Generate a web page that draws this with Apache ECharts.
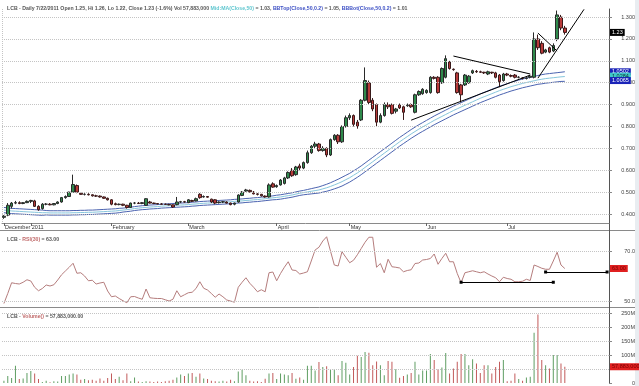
<!DOCTYPE html>
<html><head><meta charset="utf-8">
<script src="https://cdn.jsdelivr.net/npm/echarts@6/dist/echarts.min.js"></script>
<style>html,body{margin:0;padding:0;background:#fff}#c{width:639px;height:386px}</style>
</head><body><div id="c"></div>
<script>
// ---- trading days (day numbers per month) ----
const dec2010 = [22,23,24,28,29,30,31];
const jan2011 = [3,4,5,6,7,10,11,12,13,14,17,18,19,20,21,24,25,26,27,28,31];
const feb2011 = [1,2,3,4,7,8,9,10,11,14,15,16,17,18,21,22,23,24,25,28];
const mar2011 = [1,2,3,4,7,8,9,10,11,14,15,16,17,18,21,22,23,24,25,28,29,30,31];
const apr2011 = [1,4,5,6,7,8,11,12,13,14,15,18,19,20,21,26,27,28,29];
const may2011 = [2,3,4,5,6,9,10,11,12,13,16,18,19,20,23,24,25,26,27,31];
const jun2011 = [1,2,3,6,7,8,9,10,14,15,16,17,20,21,22,23,24,27,28,29,30];
const jul2011 = [1,4,5,6,7,8,11,12,13,14,15,18,19,20,21,22];
const padJul = [25,26,27,28,29];
const padAug = [1,2,3,4,5,8];

const monthLabels = {'2010-12':'December','2011-01':'2011','2011-02':'February','2011-03':'March',
  '2011-04':'April','2011-05':'May','2011-06':'Jun','2011-07':'Jul'};

// ---- price data ----
const opens = [.385,.395,.435,.45,.452,.448,.452,.458,.46,.435,
 .425,.445,.445,.442,.448,.455,.475,.48,.50,.53,
 .495,.49,.49,.488,.483,.482,.478,.472,.465,.447,
 .443,.445,.44,.43,.45,.45,.448,.44,.455,.45,
 .448,.446,.445,.444,.442,.443,.455,.456,.452,.462,
 .46,.49,.478,.48,.468,.465,.452,.455,.455,.45,
 .445,.455,.485,.505,.508,.50,.492,.49,.482,.478,
 .538,.525,.533,.54,.565,.60,.58,.62,.61,.635,
 .68,.71,.72,.69,.70,.67,.74,.76,.73,.80,
 .84,.85,.82,.83,.92,1.0,.92,.90,.82,.85,
 .90,.90,.87,.90,.89,.895,.90,.865,.945,.95,
 .955,.955,1.025,1.025,1.0,1.025,1.095,1.062,1.045,.99,
 .99,1.0,1.045,1.052,1.05,1.048,1.04,1.048,1.045,1.035,
 1.01,1.04,1.033,1.035,1.025,1.022,1.02,1.025,1.025,1.20,
 1.18,1.14,1.16,1.145,1.20,1.30,1.25];
const highs = [.395,.45,.455,.46,.458,.455,.462,.465,.465,.44,
 .45,.45,.45,.45,.458,.478,.485,.502,.58,.535,
 .50,.495,.495,.49,.488,.485,.48,.475,.468,.452,
 .448,.447,.442,.452,.455,.455,.455,.472,.46,.452,
 .45,.45,.448,.447,.444,.478,.46,.46,.468,.465,
 .475,.495,.485,.482,.47,.468,.458,.46,.458,.452,
 .452,.49,.505,.515,.512,.505,.495,.492,.485,.54,
 .545,.535,.56,.57,.595,.61,.62,.63,.64,.69,
 .715,.73,.725,.71,.705,.745,.765,.765,.805,.85,
 .86,.855,.83,.925,1.07,1.01,.93,.905,.86,.91,
 .91,.905,.885,.905,.895,.905,.905,.95,.965,.975,
 .97,1.03,1.03,1.03,1.07,1.125,1.10,1.065,1.05,.995,
 1.04,1.035,1.06,1.058,1.055,1.05,1.055,1.05,1.05,1.04,
 1.045,1.045,1.038,1.04,1.03,1.025,1.025,1.035,1.23,1.22,
 1.19,1.155,1.165,1.18,1.33,1.31,1.26];
const lows = [.378,.39,.425,.445,.445,.445,.45,.45,.432,.415,
 .42,.44,.44,.44,.445,.452,.47,.478,.498,.495,
 .488,.485,.485,.48,.478,.475,.47,.462,.44,.44,
 .44,.436,.425,.428,.445,.446,.445,.438,.448,.445,
 .444,.443,.442,.44,.428,.44,.45,.452,.45,.455,
 .458,.47,.475,.475,.45,.445,.448,.45,.448,.44,
 .44,.452,.482,.502,.498,.49,.485,.48,.475,.475,
 .52,.52,.53,.535,.56,.57,.575,.60,.605,.63,
 .675,.70,.685,.685,.66,.665,.735,.72,.725,.795,
 .83,.80,.79,.825,.915,.90,.87,.80,.815,.845,
 .88,.855,.86,.88,.83,.89,.885,.86,.94,.945,
 .95,.95,1.015,.95,.995,1.02,1.06,1.055,.95,.91,
 .985,.995,1.04,1.045,1.045,1.04,1.035,1.04,1.02,.98,
 1.005,1.03,1.025,1.02,1.02,1.015,1.015,1.02,1.02,1.15,
 1.13,1.135,1.135,1.14,1.19,1.24,1.22];
const closes = [.39,.44,.45,.452,.448,.452,.458,.462,.435,.42,
 .445,.445,.442,.448,.455,.475,.48,.50,.535,.50,
 .49,.49,.488,.483,.482,.478,.472,.465,.445,.443,
 .445,.44,.43,.45,.45,.448,.452,.47,.45,.448,
 .446,.445,.444,.442,.432,.455,.456,.455,.465,.458,
 .47,.475,.48,.477,.455,.45,.455,.456,.45,.443,
 .45,.487,.50,.51,.502,.492,.49,.483,.478,.533,
 .523,.53,.555,.565,.59,.575,.615,.61,.635,.68,
 .71,.72,.69,.70,.67,.74,.76,.73,.80,.84,
 .85,.81,.80,.92,1.01,.91,.88,.82,.85,.90,
 .89,.86,.88,.885,.865,.90,.89,.945,.96,.97,
 .965,1.025,1.02,.955,1.065,1.11,1.065,1.06,.955,.945,
 1.035,1.03,1.055,1.05,1.048,1.045,1.05,1.045,1.025,1.005,
 1.04,1.035,1.03,1.025,1.025,1.02,1.022,1.03,1.20,1.16,
 1.135,1.15,1.14,1.17,1.31,1.25,1.23];

// ---- Bollinger bands ----
const bbMid = [.418,.416,.414,.413,.412,.411,.410,.409,.408,.407,
 .406,.406,.405,.405,.405,.405,.405,.405,.406,.406,
 .407,.407,.408,.408,.409,.410,.411,.412,.413,.414,
 .416,.418,.420,.422,.425,.427,.429,.430,.432,.433,
 .434,.436,.437,.438,.439,.440,.441,.442,.443,.445,
 .446,.448,.449,.450,.451,.452,.453,.454,.455,.456,
 .458,.459,.460,.462,.463,.465,.466,.468,.470,.472,
 .474,.476,.478,.481,.484,.487,.491,.495,.498,.501,
 .504,.507,.510,.515,.520,.526,.533,.540,.548,.557,
 .566,.577,.588,.600,.613,.626,.639,.652,.665,.678,
 .691,.704,.717,.730,.742,.754,.766,.777,.788,.798,
 .808,.818,.828,.837,.846,.855,.864,.873,.881,.889,
 .897,.905,.913,.921,.929,.936,.943,.950,.957,.964,
 .970,.976,.982,.987,.992,.997,1.001,1.005,1.009,1.013,
 1.016,1.019,1.021,1.023,1.025,1.027,1.0284];
const bbTop = [.430,.428,.426,.425,.424,.423,.422,.421,.420,.419,
 .418,.416,.415,.415,.415,.415,.415,.415,.416,.416,
 .417,.417,.418,.418,.419,.420,.421,.422,.423,.424,
 .426,.427,.429,.431,.434,.436,.438,.439,.441,.442,
 .443,.445,.446,.447,.448,.449,.450,.451,.452,.454,
 .455,.457,.458,.459,.460,.461,.462,.463,.464,.465,
 .467,.468,.469,.471,.472,.474,.475,.477,.479,.481,
 .483,.486,.488,.491,.494,.497,.501,.505,.508,.512,
 .516,.520,.524,.530,.536,.543,.551,.559,.568,.577,
 .586,.597,.608,.620,.633,.646,.659,.672,.685,.698,
 .711,.724,.737,.750,.762,.774,.786,.797,.808,.818,
 .828,.838,.848,.857,.866,.875,.884,.893,.901,.909,
 .917,.925,.933,.941,.949,.956,.963,.970,.977,.984,
 .990,.996,1.002,1.007,1.012,1.017,1.021,1.025,1.029,1.033,
 1.037,1.040,1.042,1.044,1.046,1.048,1.0502];
const bbBot = [.406,.404,.402,.401,.400,.399,.398,.397,.396,.395,
 .394,.396,.395,.395,.395,.395,.395,.395,.396,.396,
 .397,.397,.398,.398,.399,.400,.401,.402,.403,.404,
 .406,.409,.411,.413,.416,.418,.420,.421,.423,.424,
 .425,.427,.428,.429,.430,.431,.432,.433,.434,.436,
 .437,.439,.440,.441,.442,.443,.444,.445,.446,.447,
 .449,.450,.451,.453,.454,.456,.457,.459,.461,.463,
 .465,.466,.468,.471,.474,.477,.481,.485,.488,.490,
 .492,.494,.496,.500,.504,.509,.515,.521,.528,.537,
 .546,.557,.568,.580,.593,.606,.619,.632,.645,.658,
 .671,.684,.697,.710,.722,.734,.746,.757,.768,.778,
 .788,.798,.808,.817,.826,.835,.844,.853,.861,.869,
 .877,.885,.893,.901,.909,.916,.923,.930,.937,.944,
 .950,.956,.962,.967,.972,.977,.981,.985,.989,.993,
 .995,.998,1.000,1.002,1.004,1.006,1.0065];

// ---- RSI(30) ----
const rsi = [49.0,53.0,57.3,57.0,56.8,57.5,58.5,58.0,55.5,54.1,
 55.0,56.4,56.0,56.5,58.4,60.5,62.0,63.5,65.1,61.1,
 61.3,60.0,58.1,58.3,56.8,57.2,57.5,54.0,51.7,52.0,
 51.0,50.1,49.3,51.7,51.8,51.2,50.7,54.8,51.3,51.1,
 51.0,51.0,50.5,50.0,50.7,54.1,51.7,52.5,53.3,53.5,
 55.0,57.7,55.1,54.4,53.0,51.5,52.8,51.7,50.4,50.0,
 49.5,55.5,57.5,59.3,57.1,55.5,53.7,54.5,53.7,61.3,
 61.6,58.1,61.0,63.5,65.7,62.4,62.2,60.8,61.2,61.7,
 66.0,70.4,71.5,74.0,75.7,70.0,64.4,64.0,69.7,67.5,
 65.3,66.3,68.5,71.0,73.5,75.5,75.5,63.5,65.0,61.3,
 66.7,63.7,63.5,63.2,61.7,62.2,62.5,65.0,65.2,66.4,
 66.6,67.0,68.8,64.7,67.0,69.1,65.7,65.7,61.0,57.3,
 61.3,61.7,62.1,61.7,61.3,61.7,60.8,60.0,59.3,57.7,
 59.5,59.0,58.7,57.7,57.7,57.9,58.7,58.2,64.4,63.8,
 63.1,62.7,62.7,66.0,69.5,64.4,63.0];

// ---- Volume (millions) ----
const volumesM = [8,25,18,62,14,16,36,43,34,14,
 4,8,3,6,5,25,25,30,34,30,
 12,14,10,12,8,16,8,18,34,14,
 22,10,34,6,20,5,4,6,5,4,
 5,4,6,8,12,20,30,25,34,36,
 22,34,16,14,8,6,5,8,5,12,
 6,41,47,28,8,5,6,4,15,34,
 36,14,34,30,28,36,15,20,12,62,
 62,45,75,57,60,49,49,28,79,72,
 30,57,97,93,111,108,63,77,63,28,
 79,76,49,19,25,30,36,76,30,45,
 45,104,82,49,55,107,34,52,76,104,
 104,63,85,70,36,63,63,34,57,76,
 82,6,8,34,14,8,20,22,180,245,
 82,63,52,100,100,70,57.883];

// ---- axis ticks ----
const priceTicks = [0.4,0.5,0.6,0.7,0.8,0.9,1.0,1.1,1.2,1.3];
const rsiTicks = [50,70];
const volTicksM = [0,100,150,200,250];
const volGridM = [50,100,150,200,250];

// ---- annotations: [ [catIndex, value], [catIndex, value] ] ----
const priceTrendlines = [
  [[116.6,1.122],[136.9,1.040]],
  [[105.7,0.829],[136.9,1.035]],
  [[138.5,1.021],[150.8,1.3355]],
  [[139.3,1.227],[143.7,1.145]]
];
const rsiLines = [
  [[119,57.5],[143,57.5]],
  [[141,61.6],[157,61.6]]
];

// ---- build ----
function mk(y,m,days){return days.map(d=>y+'-'+m+'-'+(d<10?'0'+d:d));}
const cats = [].concat(mk(2010,'12',dec2010),mk(2011,'01',jan2011),mk(2011,'02',feb2011),
  mk(2011,'03',mar2011),mk(2011,'04',apr2011),mk(2011,'05',may2011),mk(2011,'06',jun2011),
  mk(2011,'07',jul2011),mk(2011,'07',padJul),mk(2011,'08',padAug));
const N = closes.length;
const isLabel = cats.map((d,i)=> i<N && (i===0 || d.slice(0,7)!==cats[i-1].slice(0,7)) && !!monthLabels[d.slice(0,7)]);
const yearIdx = cats.findIndex(d=>d.startsWith('2011'));
const candleData = opens.map((o,i)=>[o,closes[i],lows[i],highs[i]]);
const UP='#2f8a4c', DN='#b83a3a';
const volData = volumesM.map((v,i)=>({value:v*1e6,itemStyle:{color: closes[i]>=opens[i]?'#5e9e62':'#c25a5a'}}));
const FF = 'Liberation Sans, Arial, sans-serif';
const FS = 5.5;
const TFS = 5.2;
const last = N-1;

function boxLabel(val, txt, bg, fg){
  return {yAxis: val, lineStyle:{color:'rgba(0,0,0,0)'},
    label:{show:true, position:'end', distance:1, formatter: txt, backgroundColor:bg, color:fg,
      fontSize:FS, fontFamily:FF, padding:[1,2,0,2]}};
}
function gridLines(vals){
  return vals.map(v=>({yAxis:v, lineStyle:{color:'#c4c4c4', type:'dotted', width:1}, label:{show:false}}));
}
function segs(list){
  return list.map(s=>[{coord:s[0]},{coord:s[1]}]);
}

const catAxisHidden = (gi)=>({type:'category', gridIndex:gi, data:cats, boundaryGap:true,
  axisLine:{show:false}, axisTick:{show:false}, axisLabel:{show:false}, splitLine:{show:false}});

const option = {
  animation:false,
  backgroundColor:'#fff',
  textStyle:{fontFamily:FF},
  title:[
    {left:2, top:1, text:'{a|LCB - Daily 7/22/2011 Open '+opens[last].toFixed(2)+', Hi '+highs[last].toFixed(2)+', Lo '+lows[last].toFixed(2)+', Close '+closes[last].toFixed(2)+' (-1.6%) Vol 57,883,000 }{m|Mid:MA(Close,50)}{a| = '+bbMid[last].toFixed(2)+', }{b|BBTop(Close,50,0.2)}{a| = '+bbTop[last].toFixed(2)+', }{b|BBBot(Close,50,0.2)}{a| = '+bbBot[last].toFixed(2)+'}',
      textStyle:{fontSize:TFS, rich:{a:{color:'#555',fontSize:TFS,fontFamily:FF}, m:{color:'#5fc6cf',fontSize:TFS,fontFamily:FF}, b:{color:'#3c4fc4',fontSize:TFS,fontFamily:FF}}}},
    {left:2, top:232, text:'{a|LCB - }{r|RSI(30)}{a| = '+rsi[last].toFixed(2)+'}',
      textStyle:{fontSize:TFS, rich:{a:{color:'#555',fontSize:TFS,fontFamily:FF}, r:{color:'#c06a6a',fontSize:TFS,fontFamily:FF}}}},
    {left:2, top:309, text:'{a|LCB - }{r|Volume()}{a| = 57,883,000.00}',
      textStyle:{fontSize:TFS, rich:{a:{color:'#555',fontSize:TFS,fontFamily:FF}, r:{color:'#c06a6a',fontSize:TFS,fontFamily:FF}}}}
  ],
  grid:[
    {left:2, right:30, top:9, height:214},
    {left:2, right:30, top:231, height:77},
    {left:2, right:30, top:308, height:75}
  ],
  xAxis:[
    {type:'category', gridIndex:0, data:cats, boundaryGap:true,
      axisLine:{show:true, lineStyle:{color:'#8a8a8a'}},
      axisTick:{show:true, alignWithLabel:true, length:3, interval:(i)=>isLabel[i], lineStyle:{color:'#666'}},
      axisLabel:{show:true, interval:(i)=>isLabel[i], formatter:(v)=>monthLabels[v.slice(0,7)]||'',
        align:'left', margin:1, fontSize:FS, color:'#333', fontFamily:FF, padding:[0,0,0,1]},
      splitLine:{show:true, interval:(i)=>i===yearIdx, lineStyle:{color:'#c4c4c4', type:'dotted'}}},
    catAxisHidden(1),
    catAxisHidden(2)
  ],
  yAxis:[
    {type:'value', gridIndex:0, position:'right', min:0.359, max:1.337,
      axisLine:{show:true, lineStyle:{color:'#555'}},
      axisTick:{show:true, customValues:priceTicks, length:3, lineStyle:{color:'#888'}},
      axisLabel:{show:true, customValues:priceTicks, formatter:(v)=>v.toFixed(3), align:'right', margin:26, fontSize:FS, color:'#444', fontFamily:FF},
      splitLine:{show:false}},
    {type:'value', gridIndex:1, position:'right', min:47.2, max:78,
      axisLine:{show:true, lineStyle:{color:'#555'}},
      axisTick:{show:true, customValues:rsiTicks, length:3, lineStyle:{color:'#888'}},
      axisLabel:{show:true, customValues:rsiTicks, formatter:(v)=>v.toFixed(1), align:'right', margin:26, fontSize:FS, color:'#444', fontFamily:FF},
      splitLine:{show:false}},
    {type:'value', gridIndex:2, position:'right', min:0, max:268e6,
      axisLine:{show:true, lineStyle:{color:'#555'}},
      axisTick:{show:true, customValues:volTicksM.map(v=>v*1e6), length:3, lineStyle:{color:'#888'}},
      axisLabel:{show:true, customValues:volTicksM.map(v=>v*1e6), formatter:(v)=>v===0?'0':(v/1e6)+'M', align:'right', margin:26, fontSize:FS, color:'#444', fontFamily:FF},
      splitLine:{show:false}}
  ],
  series:[
    {type:'line', name:'BBTop', xAxisIndex:0, yAxisIndex:0, data:bbTop, showSymbol:false, symbol:'none', z:2,
      lineStyle:{color:'#4b63b0', width:1},
      markLine:{silent:true, symbol:'none', animation:false, data:[boxLabel(bbTop[last], bbTop[last].toFixed(4), '#1a23b8', '#fff')]}},
    {type:'line', name:'Mid', xAxisIndex:0, yAxisIndex:0, data:bbMid, showSymbol:false, symbol:'none', z:2,
      lineStyle:{color:'#86c6dc', width:1},
      markLine:{silent:true, symbol:'none', animation:false,
        data:gridLines(priceTicks.concat([1.336])).concat([boxLabel(bbMid[last], bbMid[last].toFixed(4), '#3fc9c9', '#103030')])}},
    {type:'line', name:'BBBot', xAxisIndex:0, yAxisIndex:0, data:bbBot, showSymbol:false, symbol:'none', z:2,
      lineStyle:{color:'#4b63b0', width:1},
      markLine:{silent:true, symbol:'none', animation:false, data:[boxLabel(bbBot[last], bbBot[last].toFixed(4), '#1a23b8', '#fff')]}},
    {type:'candlestick', name:'LCB', xAxisIndex:0, yAxisIndex:0, data:candleData, barWidth:3, z:3,
      itemStyle:{color:UP, color0:DN, borderColor:'#2a2a2a', borderColor0:'#3a1a1a', borderWidth:1},
      markLine:{silent:true, symbol:'none', animation:false,
        data: segs(priceTrendlines).map(s=>{s[0].lineStyle={color:'#000',width:1,type:'solid'}; return s;})
          .concat([boxLabel(closes[last], closes[last].toFixed(2), '#000', '#fff')]),
        lineStyle:{color:'#000', width:1, type:'solid'}, label:{show:false}}},
    {type:'line', name:'RSI', xAxisIndex:1, yAxisIndex:1, data:rsi, showSymbol:false, symbol:'none',
      lineStyle:{color:'#b57d7d', width:1},
      markLine:{silent:true, symbol:'none', animation:false,
        data: gridLines(rsiTicks).concat(
          segs(rsiLines).map(s=>{s[0].lineStyle={color:'#000',width:1,type:'solid'}; s[0].symbol='rect'; s[1].symbol='rect'; return s;}))
          .concat([boxLabel(rsi[last], rsi[last].toFixed(2), '#e02020', '#7a0000')]),
        symbolSize:3, label:{show:false}}},
    {type:'bar', name:'Volume', xAxisIndex:2, yAxisIndex:2, data:volData, barWidth:1,
      markLine:{silent:true, symbol:'none', animation:false,
        data: gridLines(volGridM.map(v=>v*1e6)).concat([boxLabel(volumesM[last]*1e6, '57,883,000.00', '#e02020', '#7a0000')]),
        label:{show:false}}}
  ],
  graphic:[
    {type:'line', shape:{x1:0,y1:230.5,x2:639,y2:230.5}, style:{stroke:'#8a8a8a', lineWidth:1}, silent:true},
    {type:'line', shape:{x1:0,y1:307.5,x2:639,y2:307.5}, style:{stroke:'#8a8a8a', lineWidth:1}, silent:true},
    {type:'line', shape:{x1:609.5,y1:222,x2:609.5,y2:232}, style:{stroke:'#555', lineWidth:1}, silent:true},
    {type:'rect', shape:{x:635,y:0,width:4,height:386}, style:{fill:'#e9edf1'}, silent:true}
  ]
};
const chart = echarts.init(document.getElementById('c'));
chart.setOption(option);
</script>
</body></html>
